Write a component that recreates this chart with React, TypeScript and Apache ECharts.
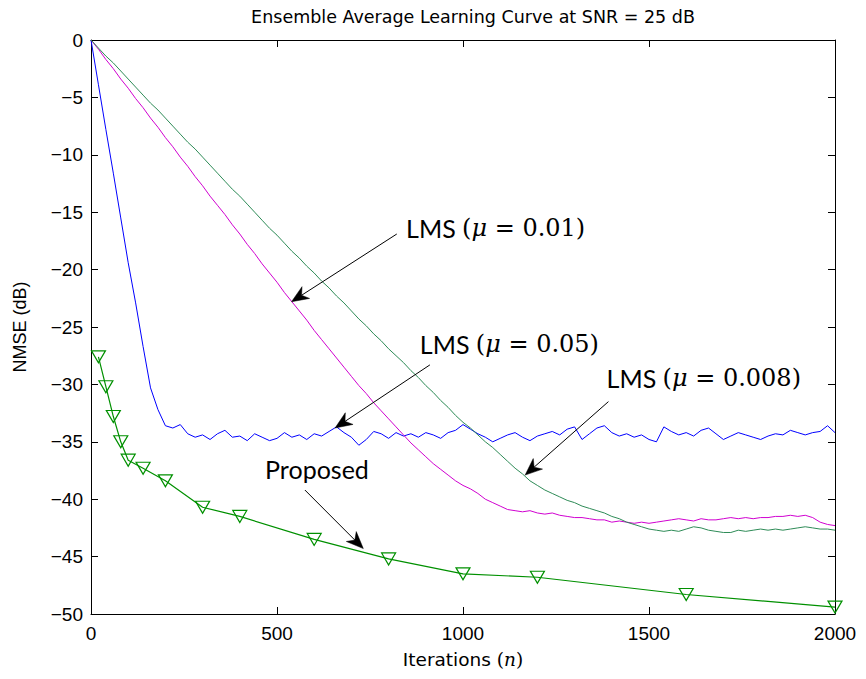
import React, { useEffect, useRef } from 'react';
import * as echarts from 'echarts';

// sampling grid of the LMS learning curves (iterations)
const lmsIter: number[] = Array.from({ length: 101 }, (_, i) => i * 20);

const lmsMu005 = [
  0, -3.9, -7.8, -11.6, -15.5, -19.4, -22.9, -26.7, -30.3, -32.2,
  -33.6, -33.8, -33.5, -34.3, -34.6, -34.4, -34.8, -34.3, -34.0, -34.6,
  -34.5, -34.9, -34.3, -34.6, -34.9, -34.7, -34.2, -34.6, -34.4, -34.8,
  -34.3, -34.5, -34.1, -33.7, -34.2, -34.6, -35.3, -34.8, -34.1, -34.3,
  -34.7, -34.2, -34.5, -34.3, -34.6, -34.2, -34.4, -34.7, -34.2, -34.0,
  -33.5, -33.9, -34.3, -34.6, -35.0, -34.7, -34.4, -34.2, -34.6, -34.9,
  -34.5, -34.3, -34.1, -34.4, -33.9, -33.7, -34.8, -34.3, -33.8, -33.6,
  -34.2, -34.5, -34.3, -34.6, -34.4, -34.8, -35.0, -33.7, -34.1, -34.4,
  -34.2, -34.5, -34.0, -33.8, -34.3, -34.8, -34.5, -34.2, -34.4, -34.6,
  -34.8, -34.5, -34.3, -34.4, -34.0, -34.2, -34.4, -34.2, -34.1, -33.6,
  -34.2,
];

const lmsMu001 = [
  0, -0.8, -1.7, -2.5, -3.4, -4.2, -5.1, -5.9, -6.8, -7.6,
  -8.5, -9.3, -10.2, -11.0, -11.9, -12.7, -13.6, -14.4, -15.2, -16.1,
  -16.9, -17.8, -18.6, -19.5, -20.3, -21.1, -22.0, -22.8, -23.6, -24.4,
  -25.3, -26.1, -26.9, -27.7, -28.5, -29.3, -30.1, -30.8, -31.6, -32.3,
  -33.0, -33.7, -34.4, -35.1, -35.7, -36.3, -36.9, -37.4, -37.9, -38.4,
  -38.8, -39.1, -39.5, -40.0, -40.3, -40.6, -40.9, -41.0, -41.1, -41.0,
  -41.2, -41.3, -41.2, -41.4, -41.5, -41.6, -41.6, -41.7, -41.8, -41.8,
  -42.0, -41.9, -42.0, -42.1, -42.0, -42.1, -42.0, -41.9, -41.8, -41.7,
  -41.8, -41.9, -41.7, -41.8, -41.8, -41.7, -41.6, -41.7, -41.6, -41.7,
  -41.6, -41.6, -41.5, -41.5, -41.4, -41.5, -41.4, -41.6, -42.0, -42.2,
  -42.3,
];

const lmsMu0008 = [
  0, -0.7, -1.4, -2.0, -2.7, -3.4, -4.1, -4.8, -5.5, -6.1,
  -6.8, -7.5, -8.2, -8.9, -9.5, -10.2, -10.9, -11.6, -12.3, -13.0,
  -13.6, -14.3, -15.0, -15.7, -16.4, -17.0, -17.7, -18.4, -19.0, -19.7,
  -20.3, -21.0, -21.6, -22.3, -22.9, -23.6, -24.3, -24.9, -25.6, -26.2,
  -26.9, -27.5, -28.1, -28.8, -29.4, -30.1, -30.7, -31.4, -32.0, -32.7,
  -33.3, -33.8, -34.4, -35.0, -35.5, -36.1, -36.7, -37.3, -37.8, -38.4,
  -38.8, -39.2, -39.5, -39.8, -40.1, -40.3, -40.6, -40.8, -41.0, -41.2,
  -41.5, -41.7, -42.0, -42.2, -42.4, -42.6, -42.7, -42.8, -42.7, -42.8,
  -42.6, -42.4, -42.5, -42.7, -42.8, -42.9, -42.9, -42.7, -42.8, -42.7,
  -42.6, -42.7, -42.6, -42.7, -42.6, -42.5, -42.4, -42.5, -42.6, -42.6,
  -42.7,
];

const proposedIter = [20, 40, 60, 80, 100, 140, 200, 300, 400, 600, 800, 1000, 1200, 1600, 2000];
const proposedNmse = [-27.6, -30.2, -32.8, -35.0, -36.6, -37.3, -38.4, -40.7, -41.5, -43.5, -45.2, -46.5, -46.8, -48.3, -49.4];

// annotations in data coordinates
const annLabels = ['0.01', '0.05', '0.008', ''];
const annTextAt: [number, number][] = [[847, -16.4], [884, -26.5], [1386, -29.4], [468, -37.4]];
const annTail: [number, number][] = [[822, -16.9], [911, -28.3], [1391, -31.5], [575, -39.2]];
const annHead: [number, number][] = [[539, -22.8], [656, -33.8], [1167, -37.9], [732, -44.3]];

const LATO = 'Lato, "DejaVu Sans", sans-serif';
const DJS = '"DejaVu Sans", sans-serif';
const HELV = '"Liberation Sans", Arial, sans-serif';
const SERIF = '"DejaVu Serif", "Liberation Serif", serif';

const zip = (xs: number[], ys: number[]) => xs.map((x, i) => [x, ys[i]]);

const mkTick = () => ({ show: true, inside: true, length: 7, lineStyle: { color: '#000', width: 1 } });
const mkLine = () => ({ show: true, onZero: false, lineStyle: { color: '#000', width: 1 } });

export default function App() {
  const ref = useRef<HTMLDivElement>(null);
  useEffect(() => {
    document.body.style.margin = '0';
    const chart = echarts.init(ref.current!, undefined, { renderer: 'svg' });
    chart.setOption({
      animation: false,
      backgroundColor: '#fff',
      title: {
        text: 'Ensemble Average Learning Curve at SNR = 25 dB',
        left: 468,
        top: 3,
        textAlign: 'center',
        textStyle: { fontFamily: DJS, fontSize: 17.5, fontWeight: 'normal', color: '#000' },
      },
      grid: { left: 91, right: 31, top: 40, bottom: 65, containLabel: false },
      xAxis: [
        {
          type: 'value', min: 0, max: 2000, interval: 500,
          axisLine: mkLine(), axisTick: mkTick(), splitLine: { show: false },
          axisLabel: { margin: 10, fontFamily: HELV, fontSize: 19, color: '#000', formatter: (v: number) => String(v) },
          name: '{a|Iterations }{b|(}{c|n}{b|)}',
          nameLocation: 'middle', nameGap: 36,
          nameTextStyle: {
            fontFamily: DJS, fontSize: 18, color: '#000',
            rich: {
              a: { fontFamily: DJS, fontSize: 18.5, color: '#000' },
              b: { fontFamily: SERIF, fontSize: 18.5, color: '#000' },
              c: { fontFamily: SERIF, fontSize: 18.5, fontStyle: 'italic', color: '#000' },
            },
          },
        },
        {
          type: 'value', position: 'top', min: 0, max: 2000, interval: 500,
          axisLine: mkLine(), axisTick: mkTick(), axisLabel: { show: false }, splitLine: { show: false },
        },
      ],
      yAxis: [
        {
          type: 'value', min: -50, max: 0, interval: 5,
          axisLine: mkLine(), axisTick: mkTick(), splitLine: { show: false },
          axisLabel: {
            margin: 8, fontFamily: HELV, fontSize: 19, color: '#000',
            formatter: (v: number) => String(v).replace('-', '\u2212'),
          },
          name: 'NMSE (dB)', nameLocation: 'middle', nameGap: 62,
          nameTextStyle: { fontFamily: HELV, fontSize: 18, color: '#000' },
        },
        {
          type: 'value', position: 'right', min: -50, max: 0, interval: 5,
          axisLine: mkLine(), axisTick: mkTick(), axisLabel: { show: false }, splitLine: { show: false },
        },
      ],
      series: [
        {
          type: 'line', name: 'LMS 0.05', data: zip(lmsIter, lmsMu005), showSymbol: false,
          lineStyle: { color: '#0000ff', width: 1 }, z: 2,
        },
        {
          type: 'line', name: 'LMS 0.01', data: zip(lmsIter, lmsMu001), showSymbol: false,
          lineStyle: { color: '#d000d0', width: 1 }, z: 2,
        },
        {
          type: 'line', name: 'LMS 0.008', data: zip(lmsIter, lmsMu0008), showSymbol: false,
          lineStyle: { color: '#2e8b57', width: 1 }, z: 2,
        },
        {
          type: 'line', name: 'Proposed', data: zip(proposedIter, proposedNmse),
          symbol: 'triangle', symbolRotate: 180, symbolSize: [14, 12], showSymbol: true,
          lineStyle: { color: '#009000', width: 1.2 },
          itemStyle: { color: 'rgba(0,0,0,0)', borderColor: '#009000', borderWidth: 1.2 },
          z: 3,
        },
      ],
    });

    const graphics: any[] = [];
    for (let i = 0; i < annTextAt.length; i++) {
      const t = chart.convertToPixel({ gridIndex: 0 }, annTextAt[i]) as number[];
      const tl = chart.convertToPixel({ gridIndex: 0 }, annTail[i]) as number[];
      const hd = chart.convertToPixel({ gridIndex: 0 }, annHead[i]) as number[];
      const text = annLabels[i]
        ? `{a|LMS }{b|(}{c|\u03bc}{b| = ${annLabels[i]})}`
        : '{a|Proposed}';
      graphics.push({
        type: 'text', x: t[0], y: t[1], z: 10,
        style: {
          text, verticalAlign: 'middle', align: 'left',
          rich: {
            a: { fontFamily: LATO, fontSize: 25, fill: '#000' },
            b: { fontFamily: SERIF, fontSize: 24, fill: '#000' },
            c: { fontFamily: SERIF, fontSize: 24, fontStyle: 'italic', fill: '#000' },
          },
        },
      });
      const dx = hd[0] - tl[0];
      const dy = hd[1] - tl[1];
      const len = Math.hypot(dx, dy);
      const ux = dx / len, uy = dy / len;
      const px = -uy, py = ux;
      const L = 17, W = 7, notch = 5;
      const notchPt = [hd[0] - ux * (L - notch), hd[1] - uy * (L - notch)];
      graphics.push({
        type: 'line', z: 10,
        shape: { x1: tl[0], y1: tl[1], x2: notchPt[0], y2: notchPt[1] },
        style: { stroke: '#000', lineWidth: 1 },
      });
      graphics.push({
        type: 'polygon', z: 10,
        shape: {
          points: [
            [hd[0], hd[1]],
            [hd[0] - ux * L + px * W, hd[1] - uy * L + py * W],
            notchPt,
            [hd[0] - ux * L - px * W, hd[1] - uy * L - py * W],
          ],
        },
        style: { fill: '#000', stroke: '#000', lineWidth: 0.5 },
      });
    }
    chart.setOption({ graphic: graphics });

    return () => chart.dispose();
  }, []);
  return <div ref={ref} style={{ width: 866, height: 679 }} />;
}
